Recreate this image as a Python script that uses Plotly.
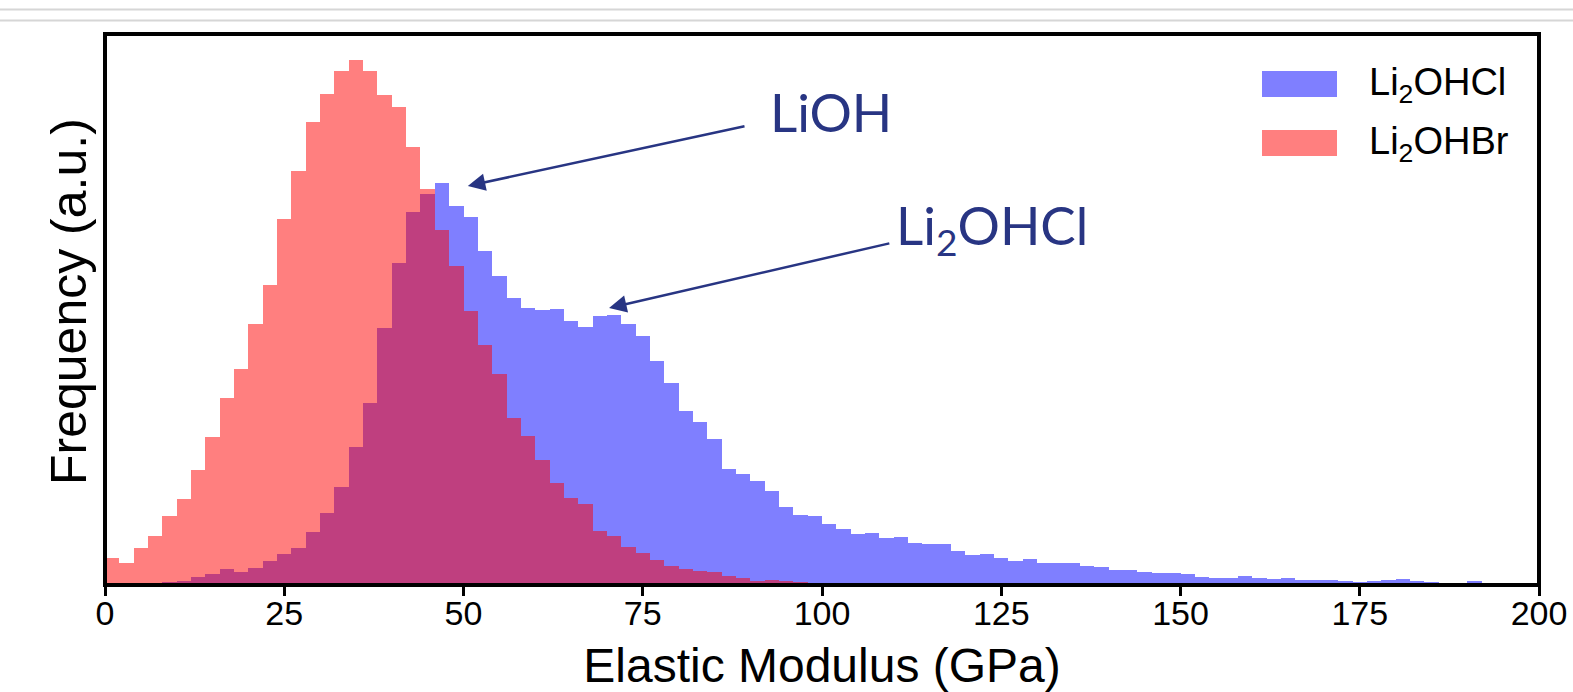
import plotly.graph_objects as go

# ---- data (frequency in arbitrary units, 2 GPa bins from 0 to 200) ----
bin_left = list(range(0, 200, 2))

li2ohcl_freq = [0, 0, 0, 0, 0.7, 2, 6, 9, 14.3, 11.5, 15, 21.8, 28.8, 35, 50.8, 70, 96.5, 136.3, 180, 255.5,
                320, 371, 389.2, 400.5, 377.2, 365.8, 332.4, 306.7, 285, 275.5, 272.8, 274, 262.5, 255.7, 266.7, 268,
                259, 246.7, 222, 199.7, 172.2, 161.2, 143.8, 113.8, 108.8, 102, 92.2, 76.5, 68.5, 67, 58.7, 54, 49,
                50.3, 44.7, 46, 40.3, 39.2, 38.8, 32.5, 28, 29.3, 25.3, 21.7, 24, 19.7, 20.3, 19.7, 16.7, 16.5, 13, 13,
                11.3, 9.7, 9.7, 8.7, 6.5, 4.7, 5.3, 7.5, 4.7, 4, 4.7, 2.7, 2.7, 3.3, 2, 1.3, 2.3, 3.5, 4, 1.7, 0.7, 0,
                0, 1.7, 0.5, 0.5, 0, 0]

li2ohbr_freq = [25.3, 20, 35, 46.7, 67.3, 84, 112.7, 146.5, 185, 214.4, 258.6, 298.2, 364, 412.2, 461.4, 489,
                512.4, 522.8, 512.4, 488.3, 476, 435.6, 394.5, 353.4, 317, 272, 237.8, 208.8, 165.4, 147.4, 123.4,
                100.2, 84.7, 78.7, 51.7, 47.2, 35.7, 30.3, 23, 17.2, 14, 12.5, 10.7, 7, 5.5, 1.7, 3.3, 2.2, 1] + [0] * 51

x_ticks = [0, 25, 50, 75, 100, 125, 150, 175, 200]

BIN_W = 2
centers = [b + BIN_W / 2 for b in bin_left]

NAVY = "#283583"
AX_FONT = "Liberation Sans, Arial, sans-serif"

fig = go.Figure()
fig.add_trace(go.Bar(x=centers, y=li2ohcl_freq, width=BIN_W, name="Li<sub>2</sub>OHCl",
                     marker=dict(color="rgba(0,0,255,0.5)", line=dict(width=0)), showlegend=False))
fig.add_trace(go.Bar(x=centers, y=li2ohbr_freq, width=BIN_W, name="Li<sub>2</sub>OHBr",
                     marker=dict(color="rgba(255,0,0,0.5)", line=dict(width=0)), showlegend=False))

# plot area in pixels (frame line is centred on these edges)
L, R, T, B = 105, 1539, 34, 585
W, H = 1573, 692
Y_OFF = 2  # bars start 2 px above the frame centre line

def px2paper(px, py):
    return (px - L) / (R - L), (B - py) / (B - T)

shapes = []
annotations = []

# screenshot guide lines at the top
for py in (9.5, 20.5):
    _, yp = px2paper(0, py)
    shapes.append(dict(type="line", xref="paper", yref="paper",
                       x0=(0 - L) / (R - L), x1=(W - L) / (R - L), y0=yp, y1=yp,
                       line=dict(color="#d6d6d6", width=2)))

# axes frame
shapes.append(dict(type="rect", xref="paper", yref="paper", x0=0, x1=1, y0=0, y1=1,
                   line=dict(color="black", width=4), layer="above"))

# custom legend
legend_items = [("Li<sub>2</sub>OHCl", "rgba(0,0,255,0.5)", 71, 97, 85),
                ("Li<sub>2</sub>OHBr", "rgba(255,0,0,0.5)", 130, 156, 144)]
for label, col, ytop, ybot, ytxt in legend_items:
    x0, y1 = px2paper(1262, ytop)
    x1, y0 = px2paper(1337, ybot)
    shapes.append(dict(type="rect", xref="paper", yref="paper", x0=x0, x1=x1, y0=y0, y1=y1,
                       fillcolor=col, line=dict(width=0)))
    tx, ty = px2paper(1367, ytxt)
    annotations.append(dict(xref="paper", yref="paper", x=tx, y=ty, text=label, showarrow=False,
                            xanchor="left", yanchor="middle",
                            font=dict(family=AX_FONT, size=38, color="black")))

# y-axis title
tx, ty = px2paper(69, 302)
annotations.append(dict(xref="paper", yref="paper", x=tx, y=ty, text="Frequency (a.u.)", showarrow=False,
                        textangle=-90, xanchor="center", yanchor="middle",
                        font=dict(family=AX_FONT, size=50, color="black")))

# callouts (data coordinates)
annotations.append(dict(xref="x", yref="y", axref="x", ayref="y", x=50.6, y=397, ax=89.4, ay=457,
                        text="", showarrow=True, arrowhead=2, arrowsize=1.4, arrowwidth=2.5,
                        arrowcolor=NAVY, standoff=0))
annotations.append(dict(xref="x", yref="y", axref="x", ayref="y", x=70.3, y=275, ax=109.6, ay=340,
                        text="", showarrow=True, arrowhead=2, arrowsize=1.4, arrowwidth=2.5,
                        arrowcolor=NAVY, standoff=0))
annotations.append(dict(xref="x", yref="y", x=92.5, y=472, text="LiOH", showarrow=False,
                        xanchor="left", yanchor="middle",
                        font=dict(family="Lato, Open Sans, sans-serif", size=53, color=NAVY)))
annotations.append(dict(xref="x", yref="y", x=110.1, y=355, text="Li<sub>2</sub>OHCl", showarrow=False,
                        xanchor="left", yanchor="middle",
                        font=dict(family="Lato, Open Sans, sans-serif", size=53, color=NAVY)))

fig.update_layout(
    width=W, height=H,
    margin=dict(l=L, r=W - R, t=T, b=H - B, pad=0, autoexpand=False),
    paper_bgcolor="white", plot_bgcolor="white",
    barmode="overlay", bargap=0,
    shapes=shapes, annotations=annotations,
    xaxis=dict(range=[0, 200], tickvals=x_ticks, ticktext=[str(v) for v in x_ticks],
               showline=False, automargin=False,
               ticks="outside", ticklen=10, tickwidth=3, tickcolor="black",
               ticklabelstandoff=-12,
               showgrid=False, zeroline=False,
               tickfont=dict(family=AX_FONT, size=34, color="black"),
               title=dict(text="Elastic Modulus (GPa)", standoff=17,
                          font=dict(family=AX_FONT, size=48, color="black"))),
    yaxis=dict(range=[-Y_OFF, B - T - Y_OFF], showline=False, automargin=False,
               ticks="", showticklabels=False, showgrid=False, zeroline=False),
)

fig.write_html("out.html")
